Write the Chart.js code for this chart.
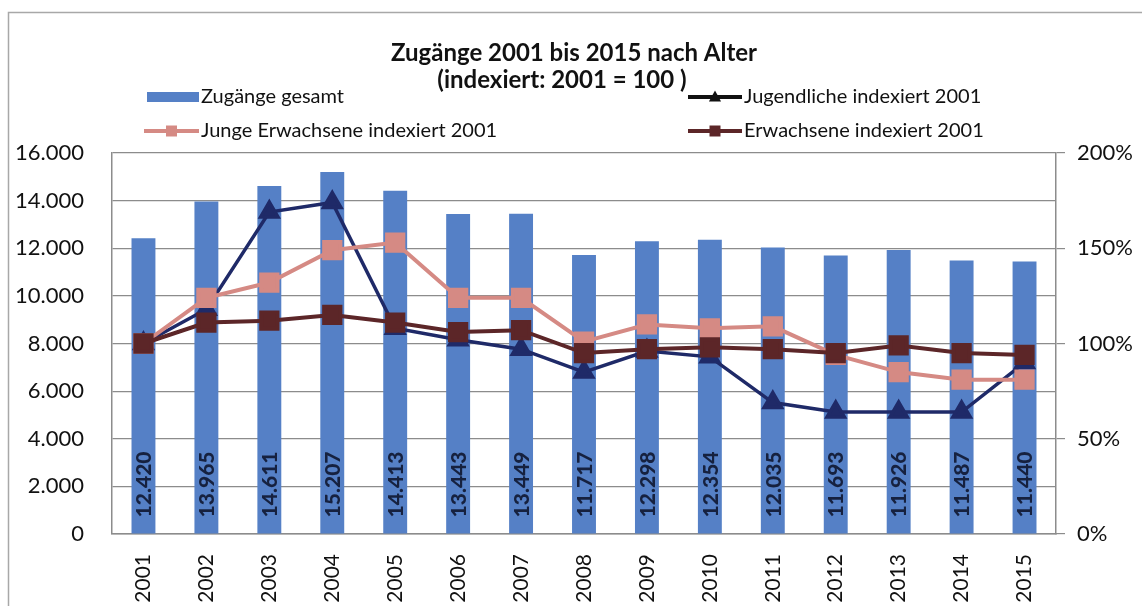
<!DOCTYPE html>
<html lang="de">
<head>
<meta charset="utf-8">
<title>Zugänge 2001 bis 2015 nach Alter</title>
<script src="https://cdn.jsdelivr.net/npm/chart.js@4.4.1/dist/chart.umd.min.js"></script>
<style>
    html, body { margin: 0; padding: 0; background: #ffffff; }
    #wrap { position: relative; width: 1142px; height: 606px; }
</style>
</head>
<body>
<div id="wrap"><canvas id="chart" width="1142" height="606"></canvas></div>
<script>
const years = ['2001', '2002', '2003', '2004', '2005', '2006', '2007', '2008',
    '2009', '2010', '2011', '2012', '2013', '2014', '2015'];

// absolute Zugänge (bars, left axis)
const zugaengeGesamt = [12420, 13965, 14611, 15207, 14413, 13443, 13449, 11717,
    12298, 12354, 12035, 11693, 11926, 11487, 11440];

// indexed series in percent (right axis)
const jugendliche = [100, 118, 169, 174, 108, 102, 97, 85, 96, 93, 69, 64, 64, 64, 90];
const jungeErwachsene = [100, 124, 132, 149, 153, 124, 124, 101, 110, 108, 109, 94, 85, 81, 81];
const erwachsene = [100, 111, 112, 115, 111, 106, 107, 95, 97, 98, 97, 95, 99, 95, 94];

const countTicks = [0, 2000, 4000, 6000, 8000, 10000, 12000, 14000, 16000];
const percentTicks = [0, 50, 100, 150, 200];

const titleLines = ['Zugänge 2001 bis 2015 nach Alter', '(indexiert: 2001 = 100 )'];

const colors = {
    bar: '#5580c6',
    barLabel: '#16213f',
    jugendliche: '#1f2a68',
    jungeErw: '#d58a84',
    erwachsene: '#5c2628',
    grid: '#8c8c8c',
    text: '#111111',
};

const FONT = "Lato, 'Open Sans', sans-serif";

function formatDe(value) {
    return String(value).replace(/\B(?=(\d{3})+(?!\d))/g, '.');
}

function drawMarker(ctx, style, x, y, size, color) {
    ctx.fillStyle = color;
    ctx.beginPath();
    if (style === 'triangle') {
        ctx.moveTo(x, y - size * 0.6);
        ctx.lineTo(x + size * 0.55, y + size * 0.4);
        ctx.lineTo(x - size * 0.55, y + size * 0.4);
        ctx.closePath();
    } else {
        ctx.rect(x - size / 2, y - size / 2, size, size);
    }
    ctx.fill();
}

const framePlugin = {
    id: 'frame',
    beforeDraw(chart) {
        const { ctx, width, height } = chart;
        ctx.save();
        ctx.fillStyle = '#ffffff';
        ctx.fillRect(0, 0, width, height);
        ctx.strokeStyle = '#a8a8a8';
        ctx.lineWidth = 1.5;
        ctx.strokeRect(8.5, 12.5, width + 10, height + 10);
        ctx.restore();
    },
    afterDraw(chart) {
        const ctx = chart.ctx;
        const ds = chart.data.datasets;
        ctx.save();

        ctx.fillStyle = colors.text;
        ctx.font = 'bold 24px ' + FONT;
        ctx.textAlign = 'center';
        ctx.textBaseline = 'middle';
        ctx.fillText(titleLines[0], 574, 53);
        ctx.fillText(titleLines[1], 562, 80);

        ctx.font = '20px ' + FONT;
        ctx.textAlign = 'left';

        // Zugänge gesamt
        ctx.fillStyle = colors.bar;
        ctx.fillRect(147, 92, 52, 10);
        ctx.fillStyle = colors.text;
        ctx.fillText(ds[0].label, 201, 97);

        const lineItems = [
            { ds: ds[2], x0: 144, x1: 199, y: 131, tx: 201, color: colors.jungeErw, marker: 'rect' },
            { ds: ds[1], x0: 688, x1: 742, y: 97, tx: 744, color: '#111111', marker: 'triangle' },
            { ds: ds[3], x0: 688, x1: 742, y: 131, tx: 744, color: colors.erwachsene, marker: 'rect' },
        ];
        lineItems.forEach((item) => {
            ctx.strokeStyle = item.color;
            ctx.lineWidth = 4;
            ctx.beginPath();
            ctx.moveTo(item.x0, item.y);
            ctx.lineTo(item.x1, item.y);
            ctx.stroke();
            drawMarker(ctx, item.marker, (item.x0 + item.x1) / 2, item.y, 11, item.color);
            ctx.fillStyle = colors.text;
            ctx.fillText(item.ds.label, item.tx, item.y);
        });

        ctx.restore();
    },
};

const barLabelPlugin = {
    id: 'barLabels',
    afterDatasetsDraw(chart) {
        const ctx = chart.ctx;
        const meta = chart.getDatasetMeta(0);
        ctx.save();
        ctx.font = '900 21px ' + FONT;
        ctx.fillStyle = colors.barLabel;
        ctx.textAlign = 'left';
        ctx.textBaseline = 'middle';
        meta.data.forEach((bar, i) => {
            ctx.save();
            ctx.translate(bar.x + 1, bar.base - 16);
            ctx.rotate(-Math.PI / 2);
            ctx.fillText(formatDe(zugaengeGesamt[i]), 0, 0);
            ctx.restore();
        });
        ctx.restore();
    },
};

Chart.defaults.font.family = FONT;
Chart.defaults.color = colors.text;

new Chart(document.getElementById('chart'), {
    data: {
        labels: years,
        datasets: [
            {
                type: 'bar',
                label: 'Zugänge gesamt',
                data: zugaengeGesamt,
                backgroundColor: colors.bar,
                yAxisID: 'y',
                barPercentage: 0.38,
                categoryPercentage: 1,
                order: 4,
            },
            {
                type: 'line',
                label: 'Jugendliche indexiert 2001',
                data: jugendliche,
                yAxisID: 'y1',
                borderColor: colors.jugendliche,
                backgroundColor: colors.jugendliche,
                borderWidth: 3.5,
                pointStyle: 'triangle',
                pointRadius: 10,
                tension: 0,
                order: 3,
            },
            {
                type: 'line',
                label: 'Junge Erwachsene indexiert 2001',
                data: jungeErwachsene,
                yAxisID: 'y1',
                borderColor: colors.jungeErw,
                backgroundColor: colors.jungeErw,
                borderWidth: 4,
                pointStyle: 'rect',
                pointRadius: 11.5,
                tension: 0,
                order: 2,
            },
            {
                type: 'line',
                label: 'Erwachsene indexiert 2001',
                data: erwachsene,
                yAxisID: 'y1',
                borderColor: colors.erwachsene,
                backgroundColor: colors.erwachsene,
                borderWidth: 4,
                pointStyle: 'rect',
                pointRadius: 11.5,
                tension: 0,
                order: 1,
            },
        ],
    },
    options: {
        responsive: false,
        animation: false,
        devicePixelRatio: 1,
        layout: { padding: { top: 153, left: 0, right: 0, bottom: 0 } },
        plugins: {
            legend: { display: false },
            title: { display: false },
            tooltip: { enabled: false },
        },
        scales: {
            x: {
                grid: { display: false },
                border: { display: true, color: colors.grid, width: 1.5 },
                ticks: {
                    font: { size: 21 },
                    color: colors.text,
                    minRotation: 90,
                    maxRotation: 90,
                    padding: 12,
                },
                afterFit(scale) { scale.height = 72; },
            },
            y: {
                position: 'left',
                min: 0,
                max: 16000,
                afterBuildTicks(scale) { scale.ticks = countTicks.map((v) => ({ value: v })); },
                grid: { color: colors.grid, lineWidth: 1.2, drawTicks: false },
                border: { display: true, color: colors.grid, width: 1.5 },
                ticks: {
                    font: { size: 22 },
                    color: colors.text,
                    padding: 28,
                    callback: (v) => formatDe(v),
                },
                afterFit(scale) { scale.width = 112; },
            },
            y1: {
                position: 'right',
                min: 0,
                max: 200,
                afterBuildTicks(scale) { scale.ticks = percentTicks.map((v) => ({ value: v })); },
                grid: { drawOnChartArea: false, color: colors.grid, lineWidth: 1.2, tickLength: 9 },
                border: { display: true, color: colors.grid, width: 1.5 },
                ticks: {
                    font: { size: 22 },
                    color: colors.text,
                    padding: 12,
                    callback: (v) => v + '%',
                },
                afterFit(scale) { scale.width = 86; },
            },
        },
    },
    plugins: [framePlugin, barLabelPlugin],
});
</script>
</body>
</html>
